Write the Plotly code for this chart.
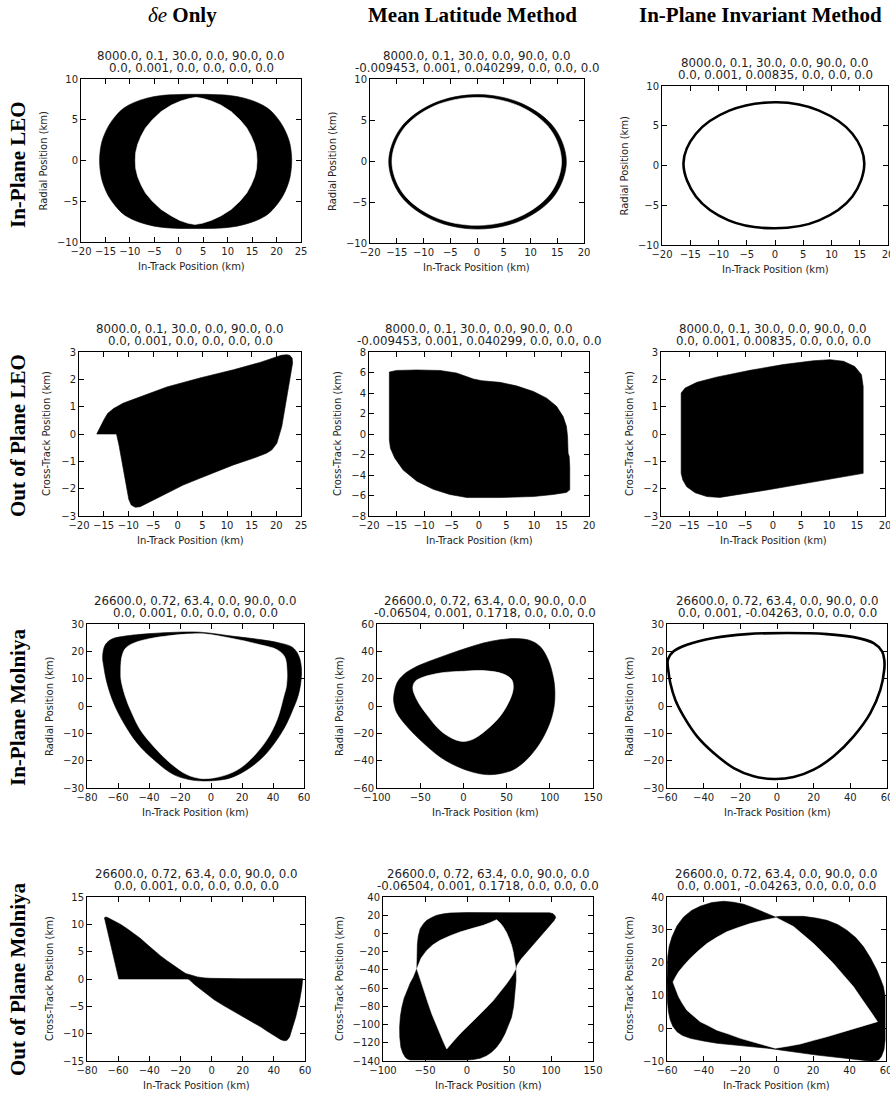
import plotly.graph_objects as go

W, H = 890, 1095

# ---------------- text shown on the figure ----------------
column_titles = ["<i>δe</i> <b>Only</b>", "<b>Mean Latitude Method</b>", "<b>In-Plane Invariant Method</b>"]
row_titles = ["In-Plane LEO", "Out of Plane LEO", "In-Plane Molniya", "Out of Plane Molniya"]

chief_leo = "8000.0, 0.1, 30.0, 0.0, 90.0, 0.0"
chief_molniya = "26600.0, 0.72, 63.4, 0.0, 90.0, 0.0"
deputy_leo = ["0.0, 0.001, 0.0, 0.0, 0.0, 0.0",
              "-0.009453, 0.001, 0.040299, 0.0, 0.0, 0.0",
              "0.0, 0.001, 0.00835, 0.0, 0.0, 0.0"]
deputy_molniya = ["0.0, 0.001, 0.0, 0.0, 0.0, 0.0",
                  "-0.06504, 0.001, 0.1718, 0.0, 0.0, 0.0",
                  "0.0, 0.001, -0.04263, 0.0, 0.0, 0.0"]

x_title = "In-Track Position (km)"
y_titles = ["Radial Position (km)", "Cross-Track Position (km)",
            "Radial Position (km)", "Cross-Track Position (km)"]

# ---------------- axis ranges and tick steps (row-major, 12 panels) ----------------
x_ranges = [[-20, 25], [-20, 20], [-20, 20],
            [-20, 25], [-20, 20], [-20, 20],
            [-80, 60], [-100, 150], [-60, 60],
            [-80, 60], [-100, 150], [-60, 60]]
x_steps = [5, 5, 5, 5, 5, 5, 20, 50, 20, 20, 50, 20]
y_ranges = [[-10, 10], [-10, 10], [-10, 10],
            [-3, 3], [-8, 8], [-3, 3],
            [-30, 30], [-60, 60], [-30, 30],
            [-15, 15], [-140, 40], [-10, 40]]
y_steps = [5, 5, 5, 1, 2, 1, 10, 20, 10, 5, 20, 10]

# ---------------- relative-motion envelopes (km) ----------------
# In-plane LEO, delta-e only: swept band and the unswept interior
leo_ip_de_outer_x = [-16.2, -15.85, -15.2, -14.3, -13.0, -11.3, -9.2, -6.5, -3.5, 0.0, 3.5, 6.9, 10.4, 13.4,
                     16.1, 18.2, 19.9, 21.2, 22.1, 22.75, 23.1, 22.75, 22.1, 21.2, 19.9, 18.2, 16.1, 13.4,
                     10.4, 6.9, 3.5, 0.0, -3.5, -6.5, -9.2, -11.3, -13.0, -14.3, -15.2, -15.85]
leo_ip_de_outer_y = [0.0, 2.0, 3.2, 4.3, 5.4, 6.4, 7.1, 7.65, 7.98, 8.1, 8.12, 8.1, 7.98, 7.65,
                     7.1, 6.4, 5.4, 4.3, 3.2, 2.0, 0.0, -2.05, -3.3, -4.45, -5.55, -6.6, -7.3, -7.85,
                     -8.2, -8.33, -8.35, -8.33, -8.2, -7.85, -7.3, -6.6, -5.55, -4.45, -3.3, -2.05]
leo_ip_de_hole_x = [3.55, 5.0, 6.7, 8.6, 10.7, 12.5, 13.9, 14.8, 15.5, 15.9, 16.0, 15.9, 15.5, 14.8, 13.9,
                    12.5, 10.7, 8.6, 6.6, 4.8, 3.3, 1.9, 0.2, -1.5, -3.6, -5.4, -6.8, -7.7, -8.4, -8.8,
                    -8.9, -8.8, -8.4, -7.7, -6.8, -5.4, -3.6, -1.5, 0.4, 2.1]
leo_ip_de_hole_y = [7.75, 7.6, 7.3, 6.8, 6.0, 5.0, 4.0, 3.0, 2.0, 1.0, 0.0, -1.0, -2.0, -3.0, -4.0,
                    -5.0, -6.0, -6.8, -7.35, -7.7, -7.85, -7.7, -7.35, -6.8, -6.0, -5.0, -4.0, -3.0, -2.0, -1.0,
                    0.0, 1.0, 2.0, 3.0, 4.0, 5.0, 6.0, 6.8, 7.3, 7.6]

# In-plane LEO, mean latitude method: thin ring
leo_ip_ml_outer_x = [16.7, 14.5, 8.4, 0.1, -8.2, -14.3, -16.5, -14.3, -8.2, 0.1, 8.4, 14.5]
leo_ip_ml_outer_y = [-0.1, 4.0, 7.0, 8.1, 7.0, 4.0, -0.1, -4.2, -7.2, -8.3, -7.2, -4.2]
leo_ip_ml_hole_x = [15.8, 13.7, 7.9, -0.05, -8.0, -13.8, -15.9, -13.8, -8.0, -0.05, 7.9, 13.7]
leo_ip_ml_hole_y = [-0.05, 3.85, 6.7, 7.75, 6.7, 3.85, -0.05, -3.95, -6.8, -7.85, -6.8, -3.95]

# In-plane LEO, in-plane invariant method: single closed trace
leo_ip_inv_x = [15.8, 13.7, 7.8, 0.3, -8.1, -14.0, -16.2, -14.0, -8.2, 0.0, 7.8, 13.7]
leo_ip_inv_y = [0.3, 4.0, 6.9, 7.95, 6.9, 4.0, 0.3, -3.9, -6.9, -7.9, -6.9, -3.9]

# Out-of-plane LEO, delta-e only
leo_oop_de_x = [-16.4, -12.4, -11.9, -11.4, -10.9, -10.4, -9.9, -9.4, -8.6, -7.6, -5.6, -2.2, 1.1, 4.5,
                7.9, 11.3, 15.3, 18.0, 19.1, 20.1, 21.1, 22.0, 22.8, 23.3, 23.2, 22.7, 22.1, 21.0,
                20.0, 16.7, 11.3, 4.5, -2.2, -7.6, -11.0, -13.0, -14.2, -15.0, -15.6, -16.0]
leo_oop_de_y = [0.0, 0.0, -0.4, -0.9, -1.5, -2.0, -2.4, -2.6, -2.68, -2.66, -2.48, -2.17, -1.87, -1.62,
                -1.38, -1.13, -0.89, -0.7, -0.58, -0.34, 0.27, 1.25, 2.1, 2.6, 2.78, 2.88, 2.9, 2.88,
                2.82, 2.62, 2.35, 2.05, 1.72, 1.37, 1.13, 0.93, 0.75, 0.5, 0.3, 0.12]

# Out-of-plane LEO, mean latitude method
leo_oop_ml_x = [-16.3, -15.0, -11.3, -7.1, -4.1, -1.0, 0.5, 3.8, 6.8, 9.9, 12.3, 14.1, 15.3, 15.9,
                16.1, 16.2, 16.4, 16.5, 16.5, 15.9, 13.5, 9.9, 3.8, -2.2, -5.3, -8.3, -11.3, -13.8,
                -15.3, -16.1, -16.3, -16.3, -16.4, -16.4]
leo_oop_ml_y = [6.05, 6.2, 6.25, 6.2, 5.95, 5.36, 5.2, 5.04, 4.7, 4.15, 3.5, 2.7, 1.7, 0.74,
                -0.24, -1.87, -2.2, -3.2, -5.45, -5.7, -5.9, -6.1, -6.2, -6.2, -5.9, -5.4, -4.6, -3.5,
                -2.36, -1.4, -0.57, 2.7, 3.0, 5.7]

# Out-of-plane LEO, in-plane invariant method
leo_oop_inv_x = [-16.4, -15.7, -13.6, -10.1, -4.1, 1.8, 7.2, 10.2, 12.6, 14.6, 15.8, 16.1, 16.1,
                 15.5, 10.8, 4.8, -1.1, -7.1, -9.5, -11.8, -13.9, -15.4, -16.1, -16.4]
leo_oop_inv_y = [1.5, 1.68, 1.89, 2.08, 2.33, 2.54, 2.68, 2.72, 2.66, 2.47, 2.17, 1.74, -1.44,
                 -1.46, -1.62, -1.84, -2.05, -2.23, -2.32, -2.29, -2.15, -1.93, -1.68, -1.44]

# In-plane Molniya, delta-e only
mol_ip_de_outer_x = [-69.9, -68.2, -63.9, -56.3, -39.1, -21.9, -6.9, 14.6, 31.8, 44.7, 52.5, 56.5, 58.3,
                     57.8, 55.8, 53.0, 49.0, 42.6, 34.0, 23.2, 12.5, 3.9, -4.7, -13.3, -24.1, -37.0,
                     -47.7, -56.3, -62.8, -67.1, -69.2]
mol_ip_de_outer_y = [18.2, 22.4, 24.5, 25.5, 26.5, 27.0, 27.0, 25.5, 24.3, 23.0, 21.5, 18.5, 14.0,
                     8.0, 3.0, -1.0, -6.2, -12.3, -18.4, -23.3, -26.3, -27.2, -27.4, -27.0, -25.1, -19.6,
                     -13.5, -6.2, 1.1, 8.4, 14.5]
mol_ip_de_hole_x = [-5.0, 14.6, 31.8, 42.6, 47.5, 49.0, 48.6, 46.9, 42.6, 36.1, 27.5, 18.9, 10.3, 1.7,
                    -6.9, -15.5, -26.2, -37.0, -45.6, -51.0, -55.3, -58.0, -58.2, -57.5, -55.0, -49.9,
                    -39.1, -28.4, -15.5]
mol_ip_de_hole_y = [26.4, 24.6, 22.4, 20.6, 18.0, 13.0, 7.2, 3.5, -5.0, -12.3, -18.4, -22.7, -25.1, -26.3,
                    -26.5, -25.1, -20.9, -14.8, -8.7, -2.6, 3.5, 9.6, 12.0, 18.0, 21.2, 23.0,
                    24.7, 25.6, 26.3]

# In-plane Molniya, mean latitude method
mol_ip_ml_outer_x = [-80.8, -76.9, -69.2, -53.8, -34.6, -15.4, 3.8, 23.1, 42.3, 61.5, 76.9, 88.5, 98.1,
                     103.8, 105.8, 105.0, 100.0, 88.5, 73.1, 57.7, 42.3, 26.9, 11.5, -7.7, -26.9,
                     -46.2, -65.4, -76.9, -80.0]
mol_ip_ml_outer_y = [5.9, 16.8, 22.9, 29.0, 33.9, 38.3, 42.4, 46.1, 48.5, 49.3, 48.0, 43.7, 33.9,
                     21.7, 12.0, -0.2, -12.4, -27.1, -39.3, -46.6, -49.5, -50.2, -48.5, -44.1, -37.3,
                     -27.1, -14.9, -5.1, 1.0]
mol_ip_ml_hole_x = [0.0, 23.1, 46.2, 55.8, 57.7, 53.8, 42.3, 26.9, 11.5, 0.0, -11.5, -26.9, -42.3,
                    -53.8, -58.5, -55.8, -46.2, -26.9, -11.5]
mol_ip_ml_hole_y = [25.4, 25.9, 23.4, 19.3, 13.2, 4.6, -7.6, -17.3, -24.1, -25.9, -24.1, -17.8, -6.3,
                    4.6, 13.2, 18.0, 21.2, 24.1, 25.1]

# In-plane Molniya, in-plane invariant method: single closed trace
mol_ip_inv_x = [-59.5, -59.1, -58.2, -55.5, -50.9, -43.6, -34.5, -23.6, -12.7, -1.8, 9.1, 20.0, 30.9,
                41.8, 50.9, 56.4, 58.5, 58.5, 57.3, 52.7, 41.8, 27.3, 5.5, -16.4, -34.5, -49.1, -56.4]
mol_ip_inv_y = [17.0, 12.1, 8.4, 2.3, -3.8, -11.1, -17.2, -22.7, -25.7, -26.7, -26.0, -23.3, -18.4,
                -11.1, -2.6, 6.0, 13.3, 17.0, 20.0, 23.0, 25.2, 26.3, 26.7, 26.3, 24.9, 22.4, 20.0]

# Out-of-plane Molniya, delta-e only
mol_oop_de_x = [-68.8, -67.8, -66.5, -62.8, -58.5, -54.2, -50.0, -45.6, -41.3, -37.0, -32.7, -28.4, -25.0,
                -21.9, -18.6, -16.6, -13.0, -9.0, -4.5, -0.4, 20.0, 58.5, 58.0, 56.5, 54.0, 51.8, 50.1,
                48.5, 46.9, 44.5, 40.4, 35.5, 31.8, 23.0, 14.6, 8.0, 1.7, -3.0, -6.9, -11.0, -14.4,
                -15.5, -59.6, -62.5, -65.5, -68.0]
mol_oop_de_y = [11.2, 11.35, 11.2, 10.7, 10.0, 9.2, 8.3, 7.4, 6.3, 5.2, 4.2, 3.3, 2.6,
                1.9, 1.35, 1.0, 0.65, 0.37, 0.2, 0.12, 0.05, 0.05, -1.5, -4.0, -7.0, -9.3, -10.6,
                -11.2, -11.3, -11.1, -10.3, -9.5, -8.8, -7.4, -6.0, -4.9, -3.8, -2.8, -1.95, -1.0, -0.1,
                0.0, 0.0, 3.5, 7.2, 10.2]

# Out-of-plane Molniya, mean latitude method
mol_oop_ml_outer_x = [-59.7, -59.6, -59.1, -58.0, -55.7, -51.5, -47.8, -42.0, -36.0, -28.0, -20.2, 0.0,
                      40.0, 80.0, 98.4, 102.4, 104.8, 105.5, 103.5, 100.4, 94.0, 86.6, 78.0, 70.8,
                      64.0, 58.9, 58.1, 58.3, 57.5, 56.9, 55.5, 53.0, 49.5, 45.1, 40.5, 35.2, 29.5,
                      23.3, 15.5, 7.5, 0.0, -30.0, -67.6, -71.5, -73.5, -76.5, -78.7, -80.0, -80.2,
                      -79.3, -77.5, -74.8, -71.5, -67.5, -63.6, -61.3]
mol_oop_ml_outer_y = [-38.8, -25.0, -12.0, -3.0, 5.2, 11.0, 14.4, 17.5, 19.9, 21.5, 22.4, 22.9,
                      23.0, 22.9, 22.6, 21.7, 19.5, 17.3, 14.0, 10.7, 4.0, -4.0, -13.0, -20.4,
                      -28.0, -35.1, -38.8, -51.6, -62.0, -69.9, -80.0, -91.9, -101.0, -110.2, -118.0,
                      -124.8, -130.0, -134.0, -137.0, -138.4, -138.8, -138.8, -138.8, -137.5, -135.8,
                      -131.0, -124.8, -114.0, -102.9, -91.0, -80.9, -71.0, -62.6, -54.5, -47.9, -43.0]
mol_oop_ml_hole_x = [35.2, 39.5, 43.1, 47.0, 50.2, 53.0, 54.9, 56.5, 57.3, 58.1, 54.0, 47.0, 39.0,
                     31.2, 21.5, 11.5, 1.5, -8.3, -16.5, -24.1, -28.2, -32.0, -37.2, -41.9, -46.1,
                     -49.8, -53.0, -55.7, -58.0, -59.7, -54.5, -47.8, -40.5, -32.0, -20.0, -8.3, 5.5,
                     19.4, 28.0]
mol_oop_ml_hole_y = [15.1, 11.5, 7.1, 1.0, -5.8, -13.0, -20.4, -27.0, -33.2, -38.8, -46.0, -55.3, -64.5,
                     -73.6, -83.0, -91.9, -101.0, -110.2, -118.5, -126.7, -118.5, -110.2, -99.0, -88.2,
                     -77.0, -66.2, -58.5, -51.6, -45.0, -38.8, -27.0, -18.6, -12.5, -7.6, -2.5, 1.5, 5.3,
                     8.9, 12.0]

# Out-of-plane Molniya, in-plane invariant method
mol_oop_inv_outer_x = [-60.0, -59.6, -58.8, -57.3, -54.5, -50.9, -46.5, -41.8, -35.5, -29.0, -23.5, -18.0,
                       -13.5, -8.9, -4.5, -0.7, 2.0, 8.5, 14.8, 21.5, 27.6, 33.5, 38.5, 43.5, 47.7,
                       51.6, 55.0, 57.2, 58.6, 59.5, 59.5, 59.5, 58.9, 57.5, 55.9, 52.5, 49.5, 40.4,
                       31.0, 22.1, 13.0, 3.9, -5.0, -14.4, -23.5, -32.6, -40.0, -47.2, -51.5, -54.5,
                       -56.8, -58.2, -59.2, -59.8]
mol_oop_inv_outer_y = [14.6, 21.7, 25.0, 27.8, 31.2, 33.9, 35.9, 37.2, 38.3, 38.7, 38.4, 37.8,
                       36.9, 35.9, 34.8, 33.9, 34.1, 34.1, 34.1, 33.6, 32.9, 31.6, 29.9, 27.6, 24.8,
                       21.3, 17.7, 14.7, 12.6, 9.6, 3.0, -3.6, -6.5, -8.6, -9.7, -10.0, -9.9, -9.4,
                       -8.8, -8.2, -7.5, -6.7, -6.1, -5.6, -5.1, -4.6, -3.9, -3.1, -2.2, -1.1,
                       0.6, 2.5, 5.0, 8.5]
mol_oop_inv_hole_x = [-0.1, 4.5, 9.3, 14.8, 20.3, 25.8, 31.2, 36.8, 42.2, 46.0, 49.5, 52.5, 55.3, 49.5,
                      40.4, 34.0, 27.6, 20.3, 13.0, 6.2, -0.7, -8.9, -14.4, -19.8, -26.2, -32.6, -37.5,
                      -41.8, -45.6, -49.1, -51.5, -53.6, -55.3, -56.7, -55.3, -53.6, -50.5, -47.2,
                      -42.8, -38.1, -32.7, -27.2, -20.9, -14.4, -7.0]
mol_oop_inv_hole_y = [33.7, 32.4, 31.0, 28.4, 25.8, 22.8, 19.7, 16.1, 12.6, 9.5, 6.5, 4.3, 2.0, 1.0,
                      -0.6, -1.6, -2.6, -3.7, -4.8, -5.5, -6.1, -4.8, -3.9, -3.1, -1.8, -0.6, 0.8,
                      2.0, 3.8, 5.5, 7.5, 9.6, 12.0, 14.1, 15.6, 17.2, 19.3, 21.3,
                      23.6, 25.8, 27.7, 29.4, 30.7, 31.9, 32.9]

# marks per panel: (x, y, kind, smooth)
panel_marks = [
    [(leo_ip_de_outer_x, leo_ip_de_outer_y, "fill", True), (leo_ip_de_hole_x, leo_ip_de_hole_y, "hole", False)],
    [(leo_ip_ml_outer_x, leo_ip_ml_outer_y, "fill", True), (leo_ip_ml_hole_x, leo_ip_ml_hole_y, "hole", True)],
    [(leo_ip_inv_x, leo_ip_inv_y, "ring", True)],
    [(leo_oop_de_x, leo_oop_de_y, "fill", False)],
    [(leo_oop_ml_x, leo_oop_ml_y, "fill", False)],
    [(leo_oop_inv_x, leo_oop_inv_y, "fill", False)],
    [(mol_ip_de_outer_x, mol_ip_de_outer_y, "fill", True), (mol_ip_de_hole_x, mol_ip_de_hole_y, "hole", True)],
    [(mol_ip_ml_outer_x, mol_ip_ml_outer_y, "fill", True), (mol_ip_ml_hole_x, mol_ip_ml_hole_y, "hole", True)],
    [(mol_ip_inv_x, mol_ip_inv_y, "ring", True)],
    [(mol_oop_de_x, mol_oop_de_y, "fill", False)],
    [(mol_oop_ml_outer_x, mol_oop_ml_outer_y, "fill", False), (mol_oop_ml_hole_x, mol_oop_ml_hole_y, "hole", False)],
    [(mol_oop_inv_outer_x, mol_oop_inv_outer_y, "fill", False), (mol_oop_inv_hole_x, mol_oop_inv_hole_y, "hole", False)],
]

# ---------------- page layout (pixel boxes: left, top, right, bottom) ----------------
frames = [
    (81, 79, 301, 242), (370, 79, 584, 243), (662, 86, 888, 245),
    (79, 352, 301, 516), (369, 352, 589, 516), (661, 352, 885, 516),
    (87, 624, 304, 788), (377, 624, 593, 788), (667, 624, 887, 788),
    (87, 897, 305, 1061), (383, 897, 593, 1061), (667, 897, 886, 1061),
]
ytitle_gap = [38, 38, 38, 33, 32, 32, 38, 38, 38, 38, 44, 38]

SANS = "DejaVu Sans"
SERIF = "Liberation Serif"
INK = "#1e1e1e"


def fx(px):
    return px / W


def fy(py):
    return 1 - py / H


fig = go.Figure()
layout = dict(width=W, height=H, margin=dict(l=0, r=0, t=0, b=0, pad=0), autosize=False,
              paper_bgcolor="white", plot_bgcolor="white", showlegend=False)
annotations = []

for i in range(12):
    n = i + 1
    l, t, r, b = frames[i]
    axis_common = dict(showgrid=False, zeroline=False, showline=True, linecolor="black", linewidth=1,
                       mirror="ticks", ticks="inside", ticklen=5, tickwidth=1, tickcolor="black",
                       tickfont=dict(family=SANS, size=10, color=INK), fixedrange=True, tick0=0,
                       automargin=False, ticklabeloverflow="allow")
    layout[f"xaxis{n}"] = dict(axis_common, domain=[fx(l), fx(r)], range=x_ranges[i], dtick=x_steps[i],
                               anchor=f"y{n}")
    layout[f"yaxis{n}"] = dict(axis_common, domain=[fy(b), fy(t)], range=y_ranges[i], dtick=y_steps[i],
                               anchor=f"x{n}")

    for xs, ys, kind, smooth in panel_marks[i]:
        xs_c = list(xs) + [xs[0]]
        ys_c = list(ys) + [ys[0]]
        shape = "spline" if smooth else "linear"
        if kind == "ring":
            fig.add_trace(go.Scatter(x=xs_c, y=ys_c, mode="lines", xaxis=f"x{n}", yaxis=f"y{n}",
                                     line=dict(color="black", width=2.6, shape=shape),
                                     hoverinfo="skip"))
        else:
            colour = "black" if kind == "fill" else "white"
            fig.add_trace(go.Scatter(x=xs_c, y=ys_c, mode="lines", xaxis=f"x{n}", yaxis=f"y{n}",
                                     fill="toself", fillcolor=colour,
                                     line=dict(color=colour, width=0.6, shape=shape),
                                     hoverinfo="skip"))

    row, col = divmod(i, 3)
    chief = chief_leo if row < 2 else chief_molniya
    deputy = (deputy_leo if row < 2 else deputy_molniya)[col]
    cx = (l + r) / 2
    for text, dy in ((chief, 23), (deputy, 10.8)):
        annotations.append(dict(text=text, x=fx(cx), y=fy(t - dy), xref="paper", yref="paper",
                                xanchor="center", yanchor="middle", showarrow=False,
                                font=dict(family=SANS, size=11.8, color=INK)))
    annotations.append(dict(text=x_title, x=fx(cx), y=fy(b + 24.5), xref="paper", yref="paper",
                            xanchor="center", yanchor="middle", showarrow=False,
                            font=dict(family=SANS, size=10, color=INK)))
    annotations.append(dict(text=y_titles[row], x=fx(l - ytitle_gap[i]), y=fy((t + b) / 2),
                            xref="paper", yref="paper", xanchor="center", yanchor="middle",
                            textangle=-90, showarrow=False,
                            font=dict(family=SANS, size=10, color=INK)))

header_x = [182, 472, 760]
for text, hx in zip(column_titles, header_x):
    annotations.append(dict(text=text, x=fx(hx), y=fy(15.5), xref="paper", yref="paper",
                            xanchor="center", yanchor="middle", showarrow=False,
                            font=dict(family=SERIF, size=21, color="black")))

row_y = [165, 436, 708, 979]
for text, ry in zip(row_titles, row_y):
    annotations.append(dict(text=f"<b>{text}</b>", x=fx(18), y=fy(ry), xref="paper", yref="paper",
                            xanchor="center", yanchor="middle", textangle=-90, showarrow=False,
                            font=dict(family=SERIF, size=21, color="black")))

layout["annotations"] = annotations
fig.update_layout(**layout)
fig.write_html("out.html")
